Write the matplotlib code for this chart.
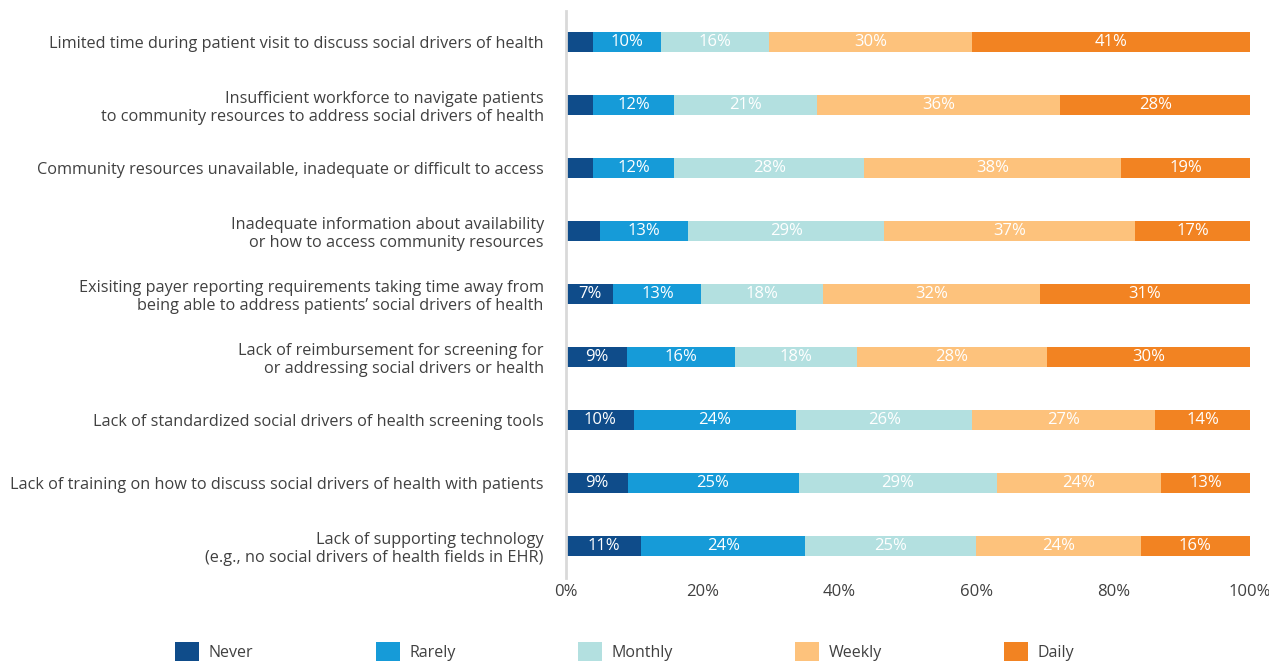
import matplotlib
matplotlib.use("Agg")
import matplotlib.pyplot as plt
from matplotlib.patches import Patch
import numpy as np

# --- data ---
categories = [
    "Limited time during patient visit to discuss social drivers of health",
    "Insufficient workforce to navigate patients\nto community resources to address social drivers of health",
    "Community resources unavailable, inadequate or difficult to access",
    "Inadequate information about availability\nor how to access community resources",
    "Exisiting payer reporting requirements taking time away from\nbeing able to address patients\u2019 social drivers of health",
    "Lack of reimbursement for screening for\nor addressing social drivers or health",
    "Lack of standardized social drivers of health screening tools",
    "Lack of training on how to discuss social drivers of health with patients",
    "Lack of supporting technology\n(e.g., no social drivers of health fields in EHR)",
]
series_names = ["Never", "Rarely", "Monthly", "Weekly", "Daily"]
never   = [4, 4, 4, 5, 7, 9, 10, 9, 11]
rarely  = [10, 12, 12, 13, 13, 16, 24, 25, 24]
monthly = [16, 21, 28, 29, 18, 18, 26, 29, 25]
weekly  = [30, 36, 38, 37, 32, 28, 27, 24, 24]
daily   = [41, 28, 19, 17, 31, 30, 14, 13, 16]
x_ticks = [0, 20, 40, 60, 80, 100]

colors = ["#0f4c8a", "#169bd8", "#b3e0e0", "#fdc27c", "#f28322"]
TEXT = "#404040"

plt.rcParams['font.family'] = ['Open Sans', 'DejaVu Sans']

# rows sum to ~101 because of rounding, scale each one to 100%
data = np.array([never, rarely, monthly, weekly, daily], dtype=float)
shares = data / data.sum(axis=0) * 100

fig = plt.figure(figsize=(12.69, 6.62), dpi=100)
ax = fig.add_axes([566 / 1269, 1 - 577.5 / 662, 684 / 1269, 567 / 662])

y = np.arange(len(categories))
left = np.zeros(len(categories))
for i, name in enumerate(series_names):
    ax.barh(y, shares[i], left=left, height=0.33, color=colors[i], label=name)
    for j in range(len(categories)):
        if data[i, j] >= 6:  # small segments have no label
            ax.text(left[j] + shares[i, j] / 2, y[j], f"{int(data[i, j])}%",
                    ha='center', va='center', color='white', fontsize=12)
    left += shares[i]

ax.set_xlim(0, 100)
ax.set_ylim(len(categories) - 0.5, -0.5)
ax.set_yticks(y)
ax.set_yticklabels(categories, fontsize=11.7, color=TEXT, linespacing=1.15)
ax.set_xticks(x_ticks)
ax.set_xticklabels([f"{t}%" for t in x_ticks], fontsize=12, color=TEXT)
ax.tick_params(axis='both', length=0)
ax.tick_params(axis='y', pad=16)
ax.tick_params(axis='x', pad=5)
for side in ['top', 'right', 'bottom']:
    ax.spines[side].set_visible(False)
ax.spines['left'].set_color('#d9d9d9')
ax.spines['left'].set_linewidth(2)

handles = [Patch(facecolor=c, edgecolor='none') for c in colors]
fig.legend(handles, series_names, loc='center left', ncol=5, mode='expand',
           bbox_to_anchor=(161 / 1269, -0.004, 928 / 1269, 0.04),
           frameon=False, fontsize=11.5, labelcolor=TEXT,
           handlelength=1.5, handleheight=1.5, handletextpad=0.6)

fig.savefig("out.png", dpi=100, facecolor='white')
